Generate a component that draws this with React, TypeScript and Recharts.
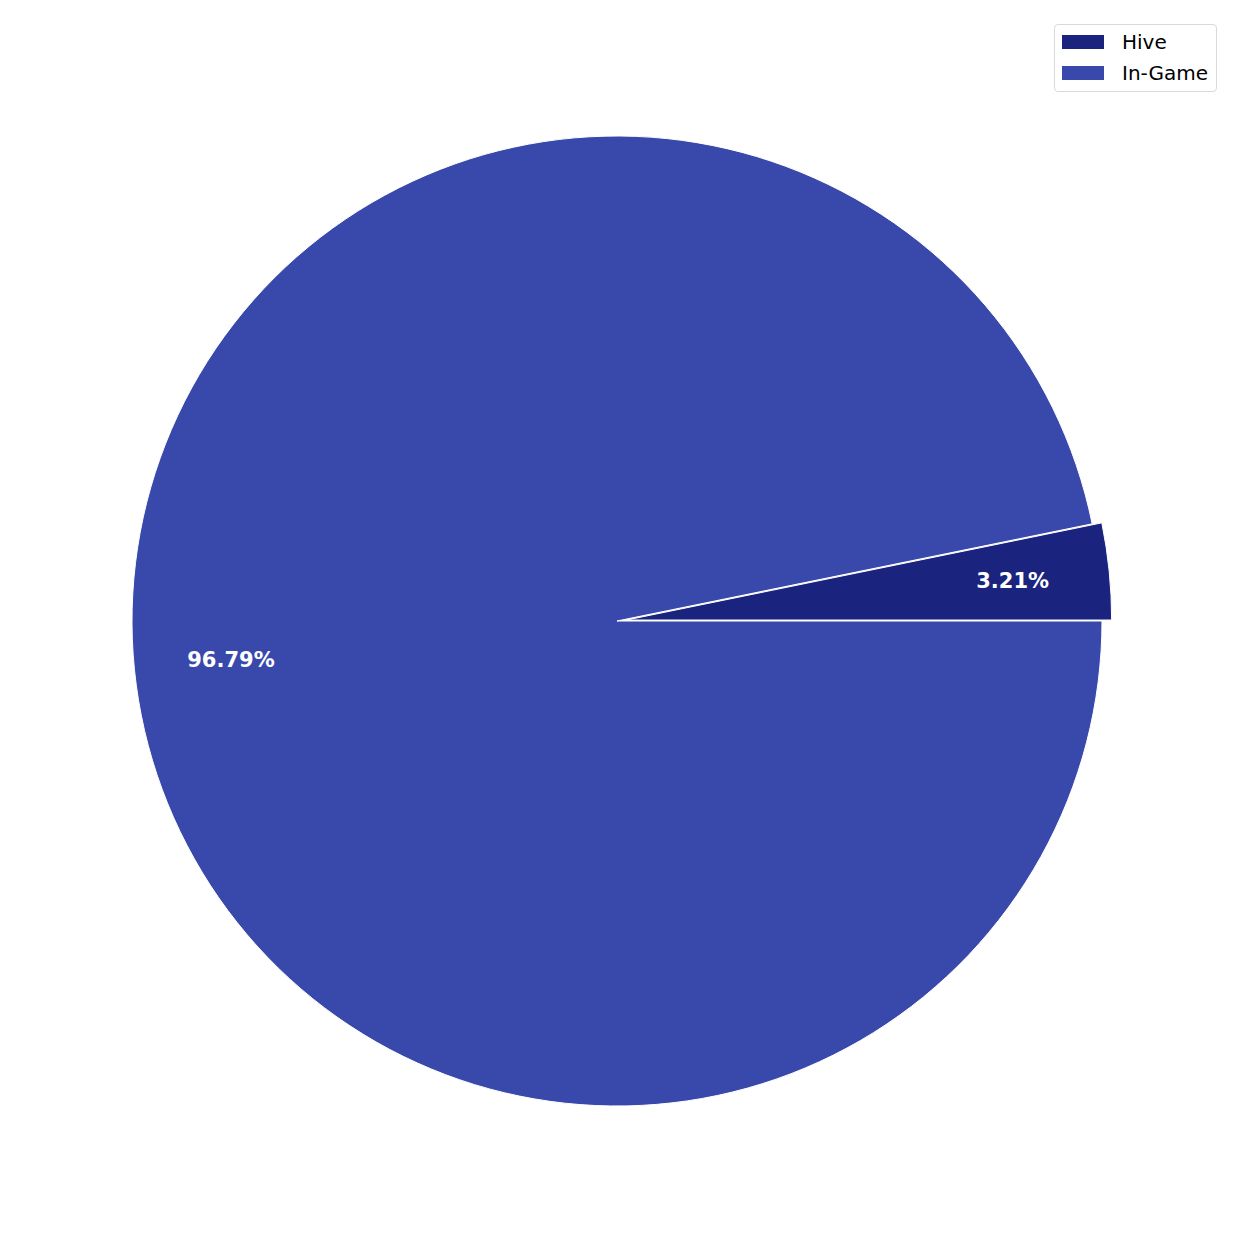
import React from "react";
import { PieChart, Pie, Cell, Legend } from "recharts";

const categories = ["Hive", "In-Game"];
const shares = [3.21, 96.79];
const colors = ["#1a237e", "#3949ab"];
const explode = [0.02, 0];

const data = categories.map((name, i) => ({ name, value: shares[i] }));

const CX = 617;
const CY = 621;
const R = 485;
const RADIAN = Math.PI / 180;

// offset of exploded Hive slice along its mid-angle
const total = shares.reduce((a, b) => a + b, 0);
const hiveMid = (shares[0] / total) * 360 / 2;
const offX = Math.cos(hiveMid * RADIAN) * R * explode[0];
const offY = -Math.sin(hiveMid * RADIAN) * R * explode[0];

const makeLabel = (showIndex: number) => (props: any) => {
  const { cx, cy, midAngle, outerRadius, percent, index } = props;
  if (index !== showIndex) return null;
  const r = outerRadius * 0.8;
  const x = cx + r * Math.cos(-midAngle * RADIAN);
  const y = cy + r * Math.sin(-midAngle * RADIAN);
  return (
    <text
      x={x}
      y={y}
      fill="#ffffff"
      textAnchor="middle"
      dominantBaseline="central"
      fontFamily="DejaVu Sans"
      fontWeight="bold"
      fontSize={21}
    >
      {(percent * 100).toFixed(2) + "%"}
    </text>
  );
};

const LegendBox = () => (
  <div
    style={{
      border: "1px solid #d9d9d9",
      borderRadius: 4,
      background: "#fff",
      padding: "1px 4px 3px 7px",
      fontFamily: "DejaVu Sans",
      fontSize: 20,
      color: "#000",
      boxSizing: "border-box",
      width: 163,
      whiteSpace: "nowrap",
    }}
  >
    {categories.map((c, i) => (
      <div key={c} style={{ display: "flex", alignItems: "center", height: 31 }}>
        <span
          style={{
            display: "inline-block",
            width: 42,
            height: 14,
            background: colors[i],
            marginRight: 18,
            flexShrink: 0,
          }}
        />
        <span>{c}</span>
      </div>
    ))}
  </div>
);

export default function App() {
  return (
    <div
      style={{
        position: "absolute",
        left: 0,
        top: 0,
        width: 1242,
        height: 1242,
        background: "#fff",
      }}
    >
      <PieChart width={1242} height={1242} margin={{ top: 0, right: 0, bottom: 0, left: 0 }}>
        <Pie
          data={data}
          dataKey="value"
          nameKey="name"
          cx={CX}
          cy={CY}
          outerRadius={R}
          startAngle={0}
          endAngle={360}
          isAnimationActive={false}
          labelLine={false}
          label={makeLabel(1)}
        >
          {data.map((d, i) => (
            <Cell
              key={d.name}
              fill={i === 0 ? "none" : colors[i]}
              stroke={i === 0 ? "none" : "#ffffff"}
              strokeWidth={1}
            />
          ))}
        </Pie>
        <Pie
          data={data}
          dataKey="value"
          nameKey="name"
          cx={CX + offX}
          cy={CY + offY}
          outerRadius={R}
          startAngle={0}
          endAngle={360}
          isAnimationActive={false}
          labelLine={false}
          label={makeLabel(0)}
        >
          {data.map((d, i) => (
            <Cell
              key={d.name}
              fill={i === 0 ? colors[i] : "none"}
              stroke={i === 0 ? "#ffffff" : "none"}
              strokeWidth={1}
            />
          ))}
        </Pie>
        <Legend
          content={<LegendBox />}
          wrapperStyle={{ position: "absolute", top: 24, left: 1054, width: 163 }}
        />
      </PieChart>
    </div>
  );
}
